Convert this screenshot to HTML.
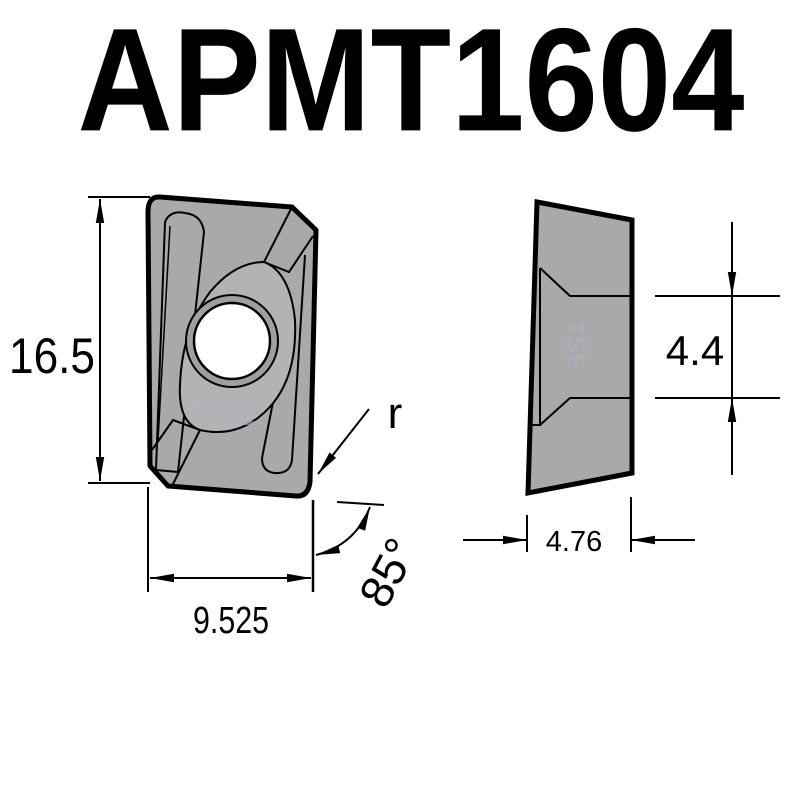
<!DOCTYPE html>
<html><head><meta charset="utf-8"><style>
html,body{margin:0;padding:0;background:#fff;}
svg{display:block;}
text{font-family:"Liberation Sans",sans-serif;}
</style></head><body>
<svg width="800" height="800" viewBox="0 0 800 800" xmlns="http://www.w3.org/2000/svg">
<defs>
<marker id="ab" viewBox="0 0 10 10" refX="10" refY="5" markerWidth="24" markerHeight="14" orient="auto-start-reverse" markerUnits="userSpaceOnUse" preserveAspectRatio="none">
<path d="M0,2 L10,5 L0,8 z" fill="#000"/></marker>
</defs>
<text x="411" y="130" font-size="136" font-weight="bold" text-anchor="middle" textLength="667" lengthAdjust="spacingAndGlyphs" transform="translate(0,-10) scale(1,1.08)">APMT1604</text>

<!-- front view -->
<path d="M160,197 L292,207 L316,230 L310,482 Q308,497 296,496 L168,486 L150,466 L148,212 Q148,196 160,197 Z" fill="#a9a9a9" stroke="#000" stroke-width="5" stroke-linejoin="round"/>
<path d="M165,222 Q170,210 185,213 Q202,215 204,232 L178,472 L156,470 Z" fill="none" stroke="#000" stroke-width="2"/>
<path d="M170,226 L158,440" stroke="#000" stroke-width="1.5" fill="none"/>
<path d="M275,392 L262,458 Q262,472 275,473 Q290,474 292,460 L305,255" fill="none" stroke="#000" stroke-width="2"/>
<path d="M292,207 L264,262 L289,272 L313,236" fill="none" stroke="#000" stroke-width="2"/>
<path d="M152,450 L173,420 L200,430 L173,484" fill="none" stroke="#000" stroke-width="2"/>
<path d="M264,262 Q290,272 295,320 Q298,390 255,420 Q230,437 200,430 Q178,422 180,385 Q182,330 210,292 Q235,262 264,262 Z" fill="#b3b3b3" stroke="#000" stroke-width="2"/>
<circle cx="232" cy="341" r="46" fill="#9f9f9f" stroke="#000" stroke-width="2"/>
<circle cx="232" cy="341" r="38" fill="#fff" stroke="#000" stroke-width="2.5"/>
<text x="230" y="425" font-size="34" font-weight="bold" fill="#a8b0c0" text-anchor="middle" opacity="0.6">TSE</text>

<!-- 16.5 dim -->
<line x1="88" y1="197" x2="150" y2="197" stroke="#000" stroke-width="2"/>
<line x1="88" y1="483" x2="150" y2="483" stroke="#000" stroke-width="2"/>
<line x1="100" y1="199" x2="100" y2="481" stroke="#000" stroke-width="2" marker-start="url(#ab)" marker-end="url(#ab)"/>
<text x="52" y="373" font-size="50" text-anchor="middle" textLength="86" lengthAdjust="spacingAndGlyphs">16.5</text>

<!-- 9.525 dim -->
<line x1="148" y1="487" x2="148" y2="592" stroke="#000" stroke-width="2"/>
<line x1="313" y1="500" x2="313" y2="592" stroke="#000" stroke-width="2.5"/>
<line x1="150" y1="578" x2="311" y2="578" stroke="#000" stroke-width="2" marker-start="url(#ab)" marker-end="url(#ab)"/>
<text x="231" y="633" font-size="38" text-anchor="middle" textLength="76" lengthAdjust="spacingAndGlyphs">9.525</text>

<!-- r -->
<line x1="369" y1="409" x2="318" y2="474" stroke="#000" stroke-width="2" marker-end="url(#ab)"/>
<text x="395" y="428" font-size="44" text-anchor="middle">r</text>

<!-- 85 deg -->
<line x1="337" y1="502" x2="384" y2="505" stroke="#000" stroke-width="2"/>
<path d="M316,555 Q355,545 370,507" fill="none" stroke="#000" stroke-width="2" marker-start="url(#ab)" marker-end="url(#ab)"/>
<text x="0" y="0" font-size="46" text-anchor="middle" transform="translate(402,580) rotate(-62)">85°</text>

<!-- side view -->
<path d="M537,202 L632,220 L632,473 L528,493 Z" fill="#a9a9a9" stroke="#000" stroke-width="5" stroke-linejoin="miter"/>
<path d="M540,268 L570,296 L630,296 M540,425 L570,398 L630,398 M540,268 L540,425 L530,425" fill="none" stroke="#000" stroke-width="2"/>
<text x="582" y="360" font-size="26" font-weight="bold" fill="#a8b0c0" opacity="0.6" transform="rotate(90 582 345)" text-anchor="middle">TSE</text>

<line x1="655" y1="296" x2="780" y2="296" stroke="#000" stroke-width="2"/>
<line x1="655" y1="398" x2="780" y2="398" stroke="#000" stroke-width="2"/>
<line x1="732" y1="222" x2="732" y2="296" stroke="#000" stroke-width="2" marker-end="url(#ab)"/>
<line x1="732" y1="475" x2="732" y2="398" stroke="#000" stroke-width="2" marker-end="url(#ab)"/>
<line x1="732" y1="296" x2="732" y2="398" stroke="#000" stroke-width="2"/>
<text x="695" y="365" font-size="42" text-anchor="middle">4.4</text>

<line x1="527" y1="515" x2="527" y2="552" stroke="#000" stroke-width="2"/>
<line x1="631" y1="497" x2="631" y2="552" stroke="#000" stroke-width="2"/>
<line x1="463" y1="540" x2="527" y2="540" stroke="#000" stroke-width="2" marker-end="url(#ab)"/>
<line x1="695" y1="540" x2="631" y2="540" stroke="#000" stroke-width="2" marker-end="url(#ab)"/>
<text x="574" y="551" font-size="29" text-anchor="middle">4.76</text>
</svg>
</body></html>
